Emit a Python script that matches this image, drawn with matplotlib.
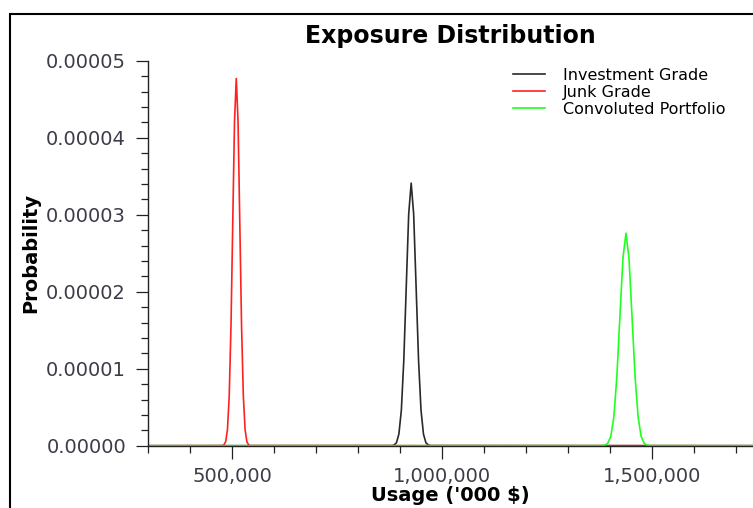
import matplotlib
matplotlib.use("Agg")
import matplotlib.pyplot as plt
from matplotlib.patches import Rectangle
from matplotlib.ticker import MultipleLocator, StrMethodFormatter

# usage ('000 $) and probability density
invest_x = [300000, 879200, 885000, 890900, 896700, 902600, 908400, 914300, 920100,
            926000, 931900, 937700, 943600, 949400, 955300, 961100, 967000, 972800, 1750000]
invest_y = [0, 0.01e-6, 0.075e-6, 0.38e-6, 1.50e-6, 4.61e-6, 11.07e-6, 20.68e-6, 30.09e-6,
            34.1e-6, 30.09e-6, 20.68e-6, 11.07e-6, 4.61e-6, 1.50e-6, 0.38e-6, 0.075e-6, 0.01e-6, 0]

junk_x = [300000, 475900, 480100, 484300, 488500, 492700, 496900, 501100, 505300,
          509500, 513700, 517900, 522100, 526300, 530500, 534700, 538900, 543100, 1750000]
junk_y = [0, 0.014e-6, 0.105e-6, 0.53e-6, 2.09e-6, 6.45e-6, 15.49e-6, 28.93e-6, 42.1e-6,
          47.7e-6, 42.1e-6, 28.93e-6, 15.49e-6, 6.45e-6, 2.09e-6, 0.53e-6, 0.105e-6, 0.014e-6, 0]

conv_x = [300000, 1379700, 1386900, 1394100, 1401400, 1408600, 1415800, 1423050, 1430300,
          1437500, 1444700, 1451950, 1459200, 1466400, 1473600, 1480900, 1488100, 1495300, 1750000]
conv_y = [0, 0.008e-6, 0.06e-6, 0.31e-6, 1.21e-6, 3.73e-6, 8.96e-6, 16.74e-6, 24.36e-6,
          27.6e-6, 24.36e-6, 16.74e-6, 8.96e-6, 3.73e-6, 1.21e-6, 0.31e-6, 0.06e-6, 0.008e-6, 0]

W, H = 753, 508
fig = plt.figure(figsize=(W / 100, H / 100), dpi=100)

left, right, bottom, top = 148.3, 753, 445.7, 60.7
ax = fig.add_axes([left / W, (H - bottom) / H, (right - left) / W, (bottom - top) / H])

ax.plot(invest_x, invest_y, color="#2a2a2a", lw=1.2, label="Investment Grade")
ax.plot(junk_x, junk_y, color="#ff2020", lw=1.2, label="Junk Grade")
ax.plot(conv_x, conv_y, color="#20ff20", lw=1.2, label="Convoluted Portfolio")

ax.set_xlim(300000, 1740000)
ax.set_ylim(0, 0.00005)

ax.spines["top"].set_visible(False)
ax.spines["right"].set_visible(False)
for s in ("left", "bottom"):
    ax.spines[s].set_color("#222222")
    ax.spines[s].set_linewidth(1.0)

ax.xaxis.set_major_locator(MultipleLocator(500000))
ax.xaxis.set_minor_locator(MultipleLocator(100000))
ax.yaxis.set_major_locator(MultipleLocator(0.00001))
ax.yaxis.set_minor_locator(MultipleLocator(0.000002))
ax.xaxis.set_major_formatter(StrMethodFormatter("{x:,.0f}"))
ax.yaxis.set_major_formatter(StrMethodFormatter("{x:.5f}"))
ax.tick_params(which="major", length=9, width=0.9, color="#222222",
               labelsize=14, labelcolor="#3c3c48")
ax.tick_params(axis="y", which="major", pad=7)
ax.tick_params(axis="x", which="major", pad=6)
ax.tick_params(which="minor", length=5, width=0.9, color="#222222")

ax.set_title("Exposure Distribution", fontsize=17, fontweight="bold", pad=13)
ax.set_xlabel("Usage ('000 $)", fontsize=14, fontweight="bold", labelpad=0)
ax.set_ylabel("Probability", fontsize=14, fontweight="bold", labelpad=4)

ax.legend(loc="upper left", bbox_to_anchor=(513 / W, 1 - 68 / H),
          bbox_transform=fig.transFigure, frameon=False, fontsize=11.5,
          handlelength=2.0, handletextpad=1.1, labelspacing=0.12,
          borderpad=0, borderaxespad=0)

# outer frame of the original window (right and bottom edges are cut off)
fig.patches.append(Rectangle((10.3 / W, -0.1), 1.2, 1.1 - 14.3 / H,
                             transform=fig.transFigure, fill=False,
                             edgecolor="black", lw=1.5))

fig.savefig("out.png", dpi=100)
